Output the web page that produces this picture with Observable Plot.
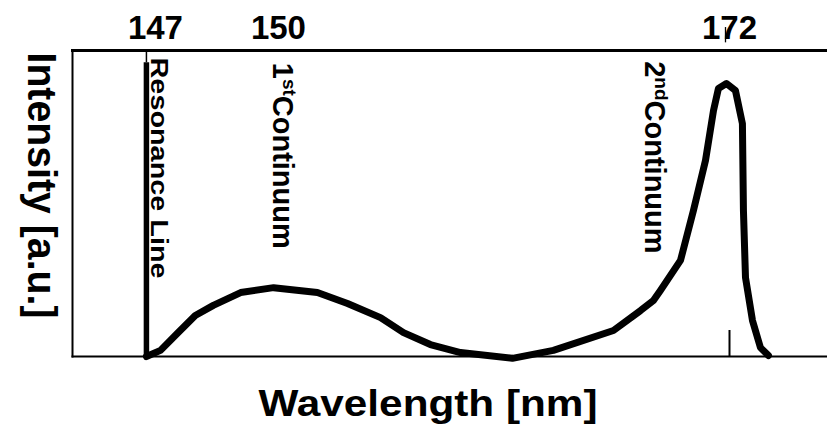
<!DOCTYPE html>
<html>
<head>
<meta charset="utf-8">
<script src="https://cdn.jsdelivr.net/npm/d3@7"></script>
<script src="https://cdn.jsdelivr.net/npm/@observablehq/plot@0.6"></script>
<style>
  body { margin: 0; background: #fff; }
</style>
</head>
<body>
<div id="chart"></div>
<script>
// Emission spectrum: resonance line, 1st and 2nd excimer continua
const wavelength = [147.0, 147.32, 147.70, 148.11, 148.52, 149.14, 149.89, 151.90, 153.37, 154.98, 156.10, 157.41, 158.88, 161.41, 163.41, 166.34, 167.66, 168.29, 168.63, 169.61, 170.24, 170.83, 171.22, 171.46, 171.85, 172.29, 172.63, 172.68, 172.78, 173.12, 173.51, 173.90];
const intensity  = [0.0, 2.0, 7.5, 13.4, 16.7, 20.9, 22.5, 20.9, 17.3, 12.7, 7.8, 3.9, 1.3, -0.6, 2.0, 8.5, 15.0, 18.3, 21.6, 31.4, 47.7, 64.1, 80.4, 87.6, 89.2, 86.9, 76.1, 47.7, 25.8, 11.8, 2.9, 0.3];

// Resonance line position and height
const resonanceWavelength = [147];
const resonanceHeight = 96;

// Wavelength tick labels along the top
const tickLabels = [147, 150, 172];

// Rotated feature labels
const labelText = ["Resonance Line", "1stContinuum", "2ndContinuum"];
const labelX = [147.27, 150.2, 168.34];
const labelTop = [97.7, 96.0, 96.5];

// The wavelength axis is drawn piecewise: the short-wavelength part
// (147–150 nm) is stretched relative to the long-wavelength part.
const warp = d3.scaleLinear().domain([147, 150, 172]).range([147, 150, 150 + 22 * 20.5 / 44]);
const wavelengthExtent = [145.32, 176.78];

const spectrum = wavelength.map((w, i) => ({x: warp(w), v: intensity[i]}));
const labels = labelText.map((t, i) => ({t, x: warp(labelX[i]), y: labelTop[i]}));
const resonance = resonanceWavelength.map(warp);
const ticks = tickLabels.map(warp);
const fmt = (d) => String(Math.round(warp.invert(d)));

const font = "'Liberation Sans', Arial, Helvetica, sans-serif";

const chart = Plot.plot({
  width: 827,
  height: 427,
  marginLeft: 72,
  marginRight: 0,
  marginTop: 50,
  marginBottom: 71,
  style: {fontFamily: font, background: "white", color: "black"},
  x: {domain: wavelengthExtent.map(warp)},
  y: {domain: [0, 100], axis: null},
  marks: [
    // frame: left, top, bottom
    Plot.frame({anchor: "left", strokeWidth: 2}),
    Plot.frame({anchor: "top", strokeWidth: 3}),
    Plot.frame({anchor: "bottom", strokeWidth: 2}),
    // top wavelength labels
    Plot.axisX([ticks[0]], {anchor: "top", tickSize: 0, tickPadding: 12, fontSize: 33, fontWeight: "bold", label: null, tickFormat: fmt, dx: 9}),
    Plot.axisX(ticks.slice(1), {anchor: "top", tickSize: 0, tickPadding: 12, fontSize: 33, fontWeight: "bold", label: null, tickFormat: fmt}),
    // small tick marks
    Plot.ruleX(resonance, {y1: resonanceHeight, y2: 100, strokeWidth: 1.5}),
    Plot.ruleX([ticks[2]], {y1: 0, y2: 8.5, strokeWidth: 2}),
    Plot.ruleX([ticks[2]], {y1: 102.5, y2: 107.5, strokeWidth: 1.3, dx: -4}),
    // resonance line
    Plot.ruleX(resonance, {y1: 0, y2: resonanceHeight, strokeWidth: 5.5}),
    // continua
    Plot.line(spectrum, {x: "x", y: "v", strokeWidth: 7, strokeLinejoin: "round", strokeLinecap: "round"}),
    // rotated feature labels
    Plot.text(labels.slice(0, 1), {x: "x", y: "y", text: "t", rotate: 90, textAnchor: "start", lineAnchor: "middle", fontSize: 23, fontWeight: "bold"}),
    Plot.text(labels.slice(1), {x: "x", y: "y", text: "t", rotate: 90, textAnchor: "start", lineAnchor: "middle", fontSize: 29, fontWeight: "bold"}),
    // axis titles
    Plot.text(["Intensity [a.u.]"], {frameAnchor: "left", rotate: 90, dx: -32, dy: -18, textAnchor: "middle", lineAnchor: "middle", fontSize: 40, fontWeight: "bold"}),
    Plot.text(["Wavelength [nm]"], {frameAnchor: "bottom", dx: -22, dy: 59, textAnchor: "middle", lineAnchor: "bottom", fontSize: 37, fontWeight: "bold"})
  ]
});

document.getElementById("chart").append(chart);

// typographic touches: stretched titles and ordinal superscripts
d3.select(chart).selectAll("text").each(function () {
  const t = d3.select(this);
  const s = this.textContent;
  if (s === "Resonance Line") {
    t.attr("textLength", 221).attr("lengthAdjust", "spacingAndGlyphs");
  } else if (s === "Intensity [a.u.]") {
    t.attr("textLength", 266).attr("lengthAdjust", "spacingAndGlyphs");
  } else if (s === "Wavelength [nm]") {
    t.attr("textLength", 339).attr("lengthAdjust", "spacingAndGlyphs");
  } else if (s === "1stContinuum" || s === "2ndContinuum") {
    const lead = s.slice(0, 1), sup = s.slice(1, 3), rest = s.slice(3);
    t.text(null);
    t.append("tspan").text(lead);
    t.append("tspan").attr("font-size", 19).attr("dy", -10).text(sup);
    t.append("tspan").attr("dy", 10).text(rest);
  }
});
</script>
</body>
</html>
